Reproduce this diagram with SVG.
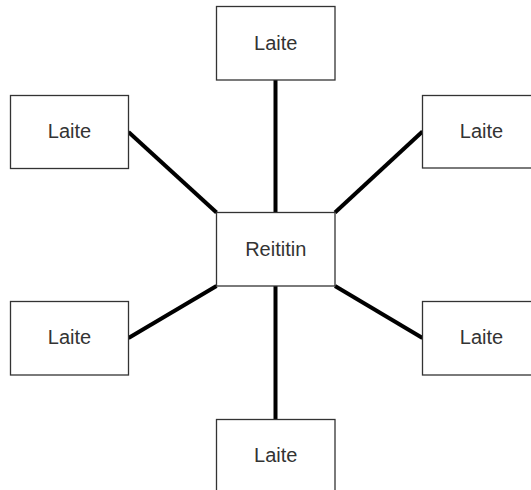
<svg xmlns="http://www.w3.org/2000/svg" width="531" height="490" viewBox="0 0 531 490">
  <style>
    .box { fill: #ffffff; stroke: #333333; stroke-width: 1.3; }
    .lbl { font-family: "Liberation Sans", Arial, sans-serif; font-size: 20px; fill: #333333; text-anchor: middle; }
    .link { stroke: #000000; stroke-width: 4; fill: none; }
  </style>
  <rect width="531" height="490" fill="#ffffff"/>
  <g id="connectors">
    <line class="link" x1="275.5" y1="80" x2="275.5" y2="212.5"/>
    <line class="link" x1="128.5" y1="132" x2="216.5" y2="212.5"/>
    <line class="link" x1="422.5" y1="131.5" x2="335" y2="212.5"/>
    <line class="link" x1="128.5" y1="338" x2="216.5" y2="286"/>
    <line class="link" x1="335" y1="286" x2="422.5" y2="338"/>
    <line class="link" x1="275.5" y1="286" x2="275.5" y2="419.5"/>
  </g>
  <g id="router">
    <rect class="box" x="216.5" y="212.5" width="118.5" height="73.5"/>
    <text class="lbl" x="275.75" y="256">Reititin</text>
  </g>
  <g id="device-top">
    <rect class="box" x="216.5" y="6.5" width="118.5" height="73.5"/>
    <text class="lbl" x="275.75" y="50">Laite</text>
  </g>
  <g id="device-top-left">
    <rect class="box" x="10.5" y="95.5" width="118" height="73"/>
    <text class="lbl" x="69.5" y="138">Laite</text>
  </g>
  <g id="device-top-right">
    <rect class="box" x="422.5" y="95.5" width="118" height="72.5"/>
    <text class="lbl" x="481.5" y="138">Laite</text>
  </g>
  <g id="device-bottom-left">
    <rect class="box" x="10.5" y="301.5" width="118" height="73.5"/>
    <text class="lbl" x="69.5" y="344">Laite</text>
  </g>
  <g id="device-bottom-right">
    <rect class="box" x="422.5" y="301.5" width="118" height="73.5"/>
    <text class="lbl" x="481.5" y="344">Laite</text>
  </g>
  <g id="device-bottom">
    <rect class="box" x="216.5" y="419.5" width="118.5" height="73.5"/>
    <text class="lbl" x="275.75" y="462">Laite</text>
  </g>
</svg>
